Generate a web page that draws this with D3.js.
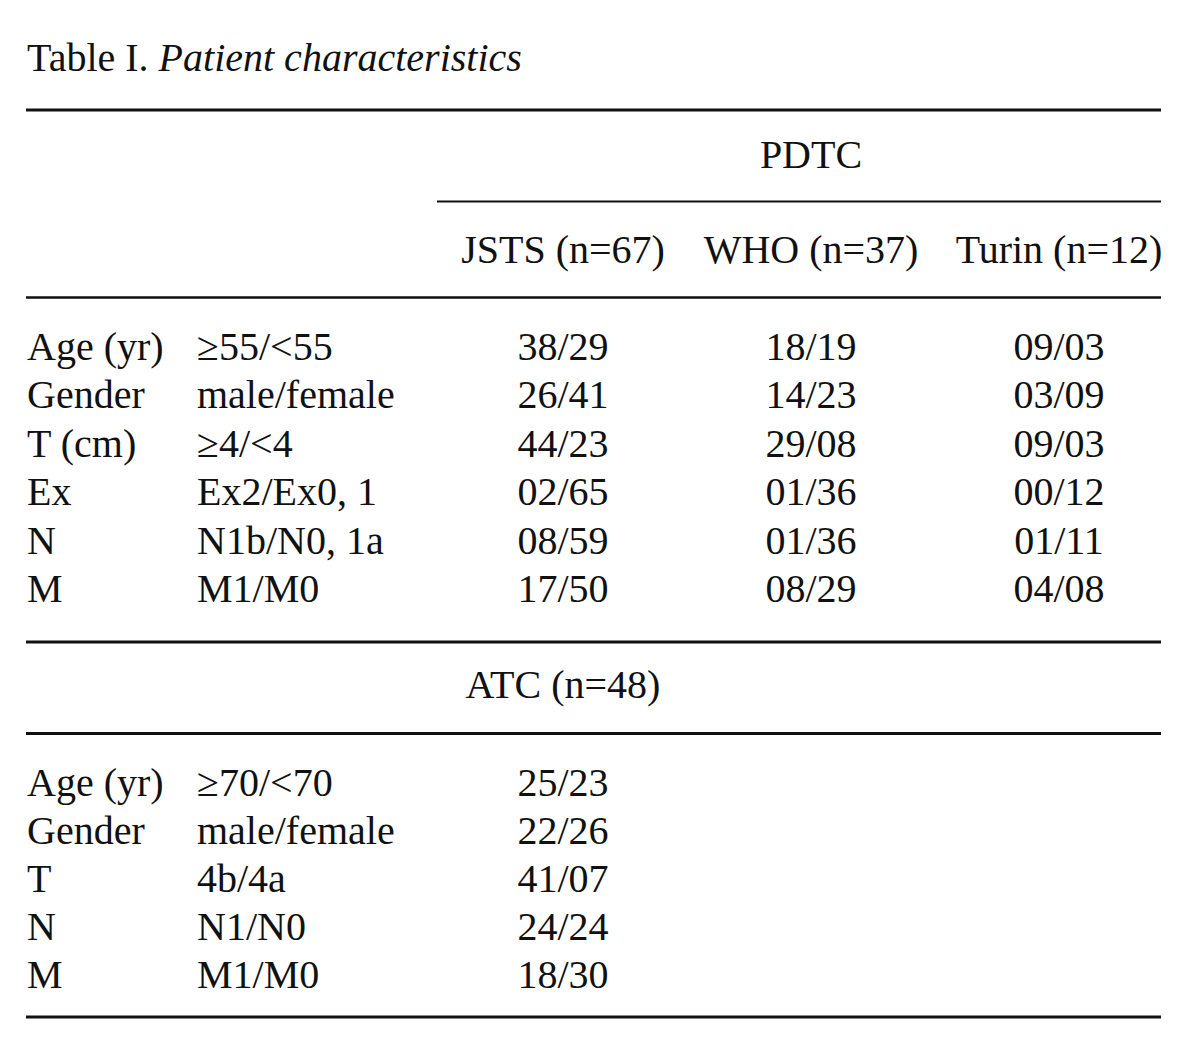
<!DOCTYPE html>
<html>
<head>
<meta charset="utf-8">
<script src="https://cdn.jsdelivr.net/npm/d3@7"></script>
<style>
	body { margin: 0; background: #fff; }
	svg text { font-family: "Liberation Serif", "Times New Roman", serif; fill: #111; }
</style>
</head>
<body>
<div id="table"></div>
<script>
const pdtcGroups = ["JSTS (n=67)", "WHO (n=37)", "Turin (n=12)"];
const pdtcVars = ["Age (yr)", "Gender", "T (cm)", "Ex", "N", "M"];
const pdtcSplits = ["≥55/<55", "male/female", "≥4/<4", "Ex2/Ex0, 1", "N1b/N0, 1a", "M1/M0"];
const jsts = ["38/29", "26/41", "44/23", "02/65", "08/59", "17/50"];
const who = ["18/19", "14/23", "29/08", "01/36", "01/36", "08/29"];
const turin = ["09/03", "03/09", "09/03", "00/12", "01/11", "04/08"];

const atcLabel = "ATC (n=48)";
const atcVars = ["Age (yr)", "Gender", "T", "N", "M"];
const atcSplits = ["≥70/<70", "male/female", "4b/4a", "N1/N0", "M1/M0"];
const atc = ["25/23", "22/26", "41/07", "24/24", "18/30"];

const width = 1200, height = 1058;
const left = 26, right = 1161;
const fontSize = 40;

const svg = d3.select("#table")
	.append("svg")
	.attr("width", width)
	.attr("height", height);

// column centres for the three PDTC groups
const xScale = d3.scalePoint()
	.domain(pdtcGroups)
	.range([563, 1059]);

const yPdtc = d3.scaleLinear().domain([0, pdtcVars.length - 1]).range([360, 602]);
const yAtc = d3.scaleLinear().domain([0, atcVars.length - 1]).range([796, 988]);

// title
const title = svg.append("text")
	.attr("x", left + 1)
	.attr("y", 71)
	.attr("font-size", fontSize);
title.append("tspan").text("Table I. ");
title.append("tspan").attr("font-style", "italic").text("Patient characteristics");

// rules
const rules = [
	{y: 110, x1: left, w: 3},
	{y: 201.5, x1: 437, w: 2.2},
	{y: 297.5, x1: left, w: 2.5},
	{y: 642, x1: left, w: 3},
	{y: 733.5, x1: left, w: 3},
	{y: 1017, x1: left, w: 3}
];
svg.selectAll("line.rule")
	.data(rules)
	.enter().append("line")
	.attr("class", "rule")
	.attr("x1", (d) => d.x1)
	.attr("x2", right)
	.attr("y1", (d) => d.y)
	.attr("y2", (d) => d.y)
	.attr("stroke", "#111")
	.attr("stroke-width", (d) => d.w);

// PDTC header
svg.append("text")
	.attr("x", xScale(pdtcGroups[1]))
	.attr("y", 168)
	.attr("text-anchor", "middle")
	.attr("font-size", fontSize)
	.text("PDTC");

svg.selectAll("text.grp")
	.data(pdtcGroups)
	.enter().append("text")
	.attr("class", "grp")
	.attr("x", (d) => xScale(d))
	.attr("y", 263)
	.attr("text-anchor", "middle")
	.attr("font-size", fontSize)
	.text((d) => d);

function drawBlock(yScale, vars, splits, cols) {
	const g = svg.append("g");
	g.selectAll("text.var")
		.data(vars)
		.enter().append("text")
		.attr("x", left + 1)
		.attr("y", (d, i) => yScale(i))
		.attr("font-size", fontSize)
		.text((d) => d);
	g.selectAll("text.split")
		.data(splits)
		.enter().append("text")
		.attr("x", 197)
		.attr("y", (d, i) => yScale(i))
		.attr("font-size", fontSize)
		.text((d) => d);
	cols.forEach((col) => {
		g.append("g").selectAll("text")
			.data(col.values)
			.enter().append("text")
			.attr("x", xScale(col.key))
			.attr("y", (d, i) => yScale(i))
			.attr("text-anchor", "middle")
			.attr("font-size", fontSize)
			.text((d) => d);
	});
}

drawBlock(yPdtc, pdtcVars, pdtcSplits, [
	{key: pdtcGroups[0], values: jsts},
	{key: pdtcGroups[1], values: who},
	{key: pdtcGroups[2], values: turin}
]);

// ATC header
svg.append("text")
	.attr("x", xScale(pdtcGroups[0]))
	.attr("y", 698)
	.attr("text-anchor", "middle")
	.attr("font-size", fontSize)
	.text(atcLabel);

drawBlock(yAtc, atcVars, atcSplits, [
	{key: pdtcGroups[0], values: atc}
]);
</script>
</body>
</html>
